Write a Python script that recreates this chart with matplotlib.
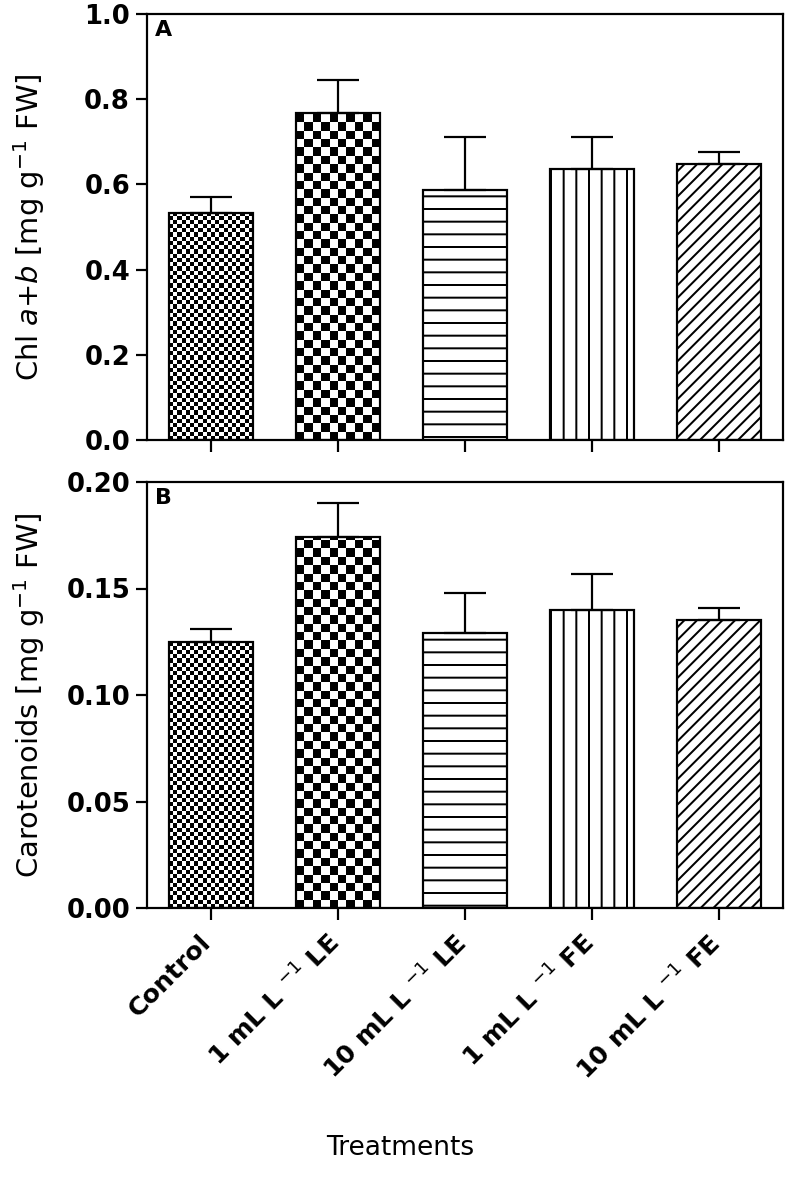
import matplotlib
matplotlib.use('Agg')
import matplotlib.pyplot as plt
import matplotlib.transforms as mtransforms
import numpy as np

# values
treatments = ['Control', '1 mL L $^{-1}$ LE', '10 mL L $^{-1}$ LE',
              '1 mL L $^{-1}$ FE', '10 mL L $^{-1}$ FE']
chl = [0.533, 0.767, 0.586, 0.636, 0.648]
chl_err = [0.037, 0.078, 0.125, 0.075, 0.028]
car = [0.125, 0.174, 0.129, 0.140, 0.135]
car_err = [0.006, 0.016, 0.019, 0.017, 0.006]

DPI = 76
def px(v):
    # pixels -> points
    return v * 72 / DPI

plt.rcParams['hatch.linewidth'] = px(2)
plt.rcParams['font.family'] = 'DejaVu Sans'

fig = plt.figure(figsize=(791 / DPI, 1182 / DPI), dpi=DPI)
W, H = 791, 1182
axA = fig.add_axes([147 / W, 1 - 440 / H, 636 / W, 426 / H])
axB = fig.add_axes([147 / W, 1 - 908 / H, 636 / W, 426 / H])

x = np.arange(len(treatments))
bw = 0.66
# style per bar: checker cell size in px, or a hatch
checker_cells = [4.2, 8.4, None, None, None]
hatches = ['', '', '-', '|', '//']


def checker(ax, bar, cell):
    bb = ax.get_window_extent()
    x0, x1 = ax.get_xlim()
    y0, y1 = ax.get_ylim()
    wpx = bar.get_width() / (x1 - x0) * bb.width
    nx = max(1, int(round(wpx / cell)))
    ny = max(1, int(round(bb.height / cell)))
    arr = np.add.outer(np.arange(ny), np.arange(nx)) % 2
    im = ax.imshow(arr, cmap='gray', vmin=0, vmax=1, origin='lower',
                   extent=(bar.get_x(), bar.get_x() + bar.get_width(), y0, y1),
                   interpolation='nearest', aspect='auto', zorder=2)
    im.set_clip_path(bar)


def panel(ax, vals, errs, ylim, ticks, fmt, ylabel, letter):
    ax.set_xlim(-0.5, len(vals) - 0.5)
    ax.set_ylim(*ylim)
    base = ax.bar(x, vals, bw, color='white', edgecolor='none', zorder=1)
    for b, c in zip(base, checker_cells):
        if c is not None:
            checker(ax, b, c)
    edge = ax.bar(x, vals, bw, fill=False, edgecolor='black',
                  linewidth=px(2.2), zorder=3)
    for b, h in zip(edge, hatches):
        b.set_hatch(h)
    ax.errorbar(x, vals, yerr=[np.zeros(len(errs)), errs], fmt='none',
                ecolor='black', elinewidth=px(2.2), capsize=px(21),
                capthick=px(2.2), zorder=3)
    ax.set_xlim(-0.5, len(vals) - 0.5)
    ax.set_ylim(*ylim)
    ax.set_yticks(ticks)
    ax.set_yticklabels([fmt.format(t) for t in ticks], fontweight='bold')
    ax.set_xticks(x)
    for s in ax.spines.values():
        s.set_linewidth(px(2.2))
    ax.tick_params(axis='y', length=px(11), width=px(2.2), pad=px(6),
                   labelsize=24.5)
    ax.tick_params(axis='x', length=px(12), width=px(2.2))
    ax.set_ylabel(ylabel, fontsize=27.5)
    ax.yaxis.set_label_coords(-0.157, 0.5)
    ax.text(0.012, 0.985, letter, transform=ax.transAxes, ha='left', va='top',
            fontsize=21, fontweight='bold')


panel(axA, chl, chl_err, (0, 1.0), np.arange(0, 1.01, 0.2), '{:.1f}',
      'Chl $a$+$b$ [mg g$^{-1}$ FW]', 'A')
axA.set_xticklabels([])

panel(axB, car, car_err, (0, 0.20), np.arange(0, 0.201, 0.05), '{:.2f}',
      'Carotenoids [mg g$^{-1}$ FW]', 'B')
axB.set_xticklabels(treatments, rotation=45, ha='right', rotation_mode='anchor',
                    fontweight='bold', fontsize=24)
axB.tick_params(axis='x', pad=px(10))
shift = mtransforms.ScaledTranslation(-12 / DPI, 0, fig.dpi_scale_trans)
for lab in axB.get_xticklabels():
    lab.set_transform(lab.get_transform() + shift)

fig.text(400 / W, 1 - 1148 / H, 'Treatments', ha='center', va='center',
         fontsize=25)

fig.savefig('out.png', dpi=DPI)
